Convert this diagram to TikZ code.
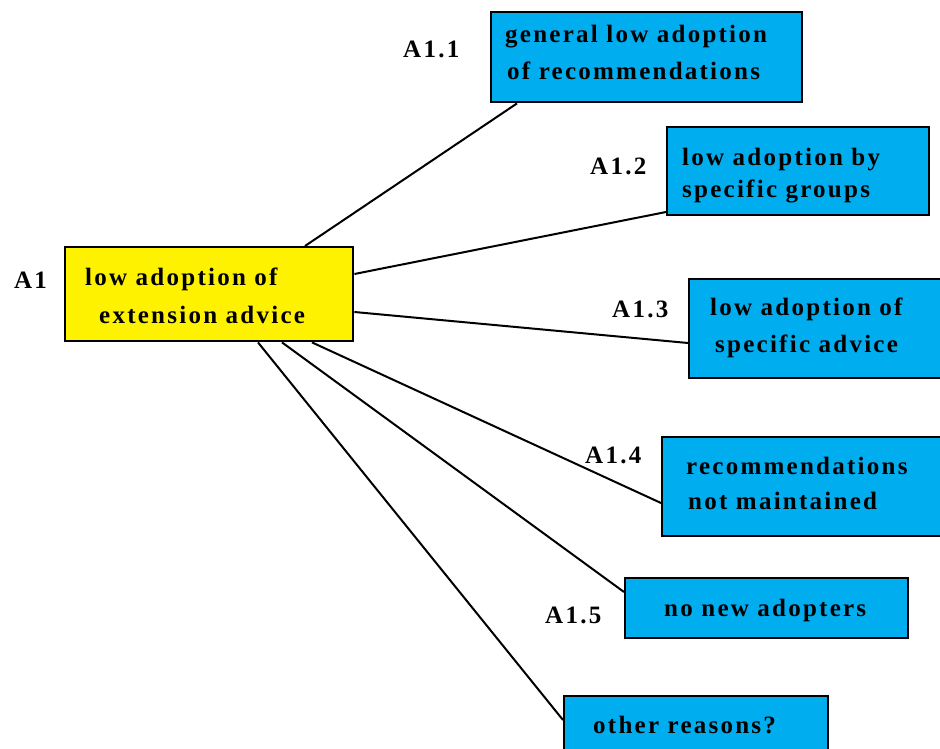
\documentclass[tikz,border=0pt]{standalone}
\usepackage{fontspec}
\setmainfont{Liberation Serif}[LetterSpace=9]
\usetikzlibrary{calc}
\definecolor{rootfill}{RGB}{255,242,0}
\definecolor{leaffill}{RGB}{0,174,239}
\begin{document}
\begin{tikzpicture}[x=1pt,y=-1pt,
  box/.style={draw=black, line width=2.4pt, anchor=north west, inner sep=0pt},
  rootbox/.style={box, fill=rootfill},
  leafbox/.style={box, fill=leaffill},
  txt/.style={anchor=base west, inner sep=0pt, font=\fontsize{25}{25}\selectfont\bfseries},
  link/.style={line width=2pt}]
\useasboundingbox (0,0) rectangle (940,749);
\clip (0,0) rectangle (940,749);

% boxes
\node[rootbox, minimum width=288pt, minimum height=94pt] (a1) at (64,246) {};
\node[leafbox, minimum width=311pt, minimum height=90pt] (b1) at (490,11) {};
\node[leafbox, minimum width=262pt, minimum height=88pt] (b2) at (666,126) {};
\node[leafbox, minimum width=270pt, minimum height=99pt] (b3) at (688,278) {};
\node[leafbox, minimum width=290pt, minimum height=99pt] (b4) at (661,436) {};
\node[leafbox, minimum width=283pt, minimum height=60pt] (b5) at (624,577) {};
\node[leafbox, minimum width=264pt, minimum height=70pt] (b6) at (563,695) {};

% connectors from the root to each cause
\draw[link] ($(a1.north west)+(241,0)$) -- ($(b1.south west)+(27,0)$);
\draw[link] ($(a1.north east)+(0,28)$) -- ($(b2.north west)+(0,86)$);
\draw[link] ($(a1.north east)+(0,66)$) -- ($(b3.north west)+(0,65)$);
\draw[link] ($(a1.south west)+(248,0)$) -- ($(b4.north west)+(0,67)$);
\draw[link] ($(a1.south west)+(218,0)$) -- ($(b5.north west)+(0,15)$);
\draw[link] ($(a1.south west)+(194,0)$) -- ($(b6.north west)+(0,25)$);

% box texts
\node[txt] (t11) at (85,285) {low adoption of};
\node[txt] (t12) at (99,323) {extension advice};
\node[txt] (t21) at (505,43) {general low adoption};
\node[txt] (t22) at (507,80) {of recommendations};
\node[txt] (t31) at (682,165) {low adoption by};
\node[txt] (t32) at (682,197) {specific groups};
\node[txt] (t41) at (710,315) {low adoption of};
\node[txt] (t42) at (715,352) {specific advice};
\node[txt] (t51) at (686,474) {recommendations};
\node[txt] (t52) at (688,509) {not maintained};
\node[txt] (t61) at (664,616) {no new adopters};
\node[txt] (t71) at (593,733) {other reasons?};

% labels
\node[txt] (l0) at (14,288) {A1};
\node[txt] (l1) at (403,58) {A1.1};
\node[txt] (l2) at (590,175) {A1.2};
\node[txt] (l3) at (612,317) {A1.3};
\node[txt] (l4) at (585,463) {A1.4};
\node[txt] (l5) at (545,623) {A1.5};
\end{tikzpicture}
\end{document}
